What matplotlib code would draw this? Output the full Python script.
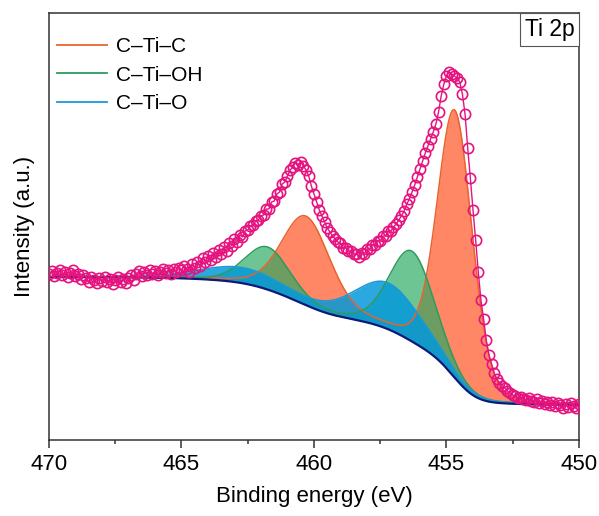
import numpy as np
import matplotlib.pyplot as plt
from matplotlib.lines import Line2D
from matplotlib.ticker import MultipleLocator

plt.rcParams['font.family'] = ['Liberation Sans', 'DejaVu Sans']

# ------------------------------------------------------------
# Measured Ti 2p spectrum, 470 -> 450 eV, 0.1 eV steps (a.u.)
# ------------------------------------------------------------
be_start, be_step = 470.0, 0.1
counts = [
    166, 169, 164, 167, 170, 165, 168, 163, 167, 170,
    164, 166, 161, 165, 162, 158, 163, 160, 157, 162,
    159, 163, 158, 161, 156, 160, 163, 158, 161, 157,
    162, 165, 160, 166, 169, 164, 168, 165, 170, 166,
    169, 165, 168, 171, 167, 170, 166, 171, 168, 172,
    170, 174, 171, 168, 176, 172, 178, 174, 182, 178,
    184, 180, 187, 183, 190, 186, 193, 189, 197, 194,
    201, 198, 205, 203, 209, 210, 214, 215, 219, 220,
    224, 225, 231, 231, 238, 239, 246, 248, 256, 258,
    264, 270, 273, 277, 275, 278, 274, 270, 264, 254,
    246, 238, 230, 224, 218, 212, 208, 204, 201, 198,
    197, 192, 192, 189, 189, 186, 186, 183, 187, 186,
    191, 191, 195, 195, 199, 199, 204, 204, 209, 209,
    213, 216, 220, 224, 229, 236, 241, 248, 255, 263,
    271, 279, 287, 294, 301, 308, 316, 328, 344, 356,
    364, 368, 366, 364, 362, 358, 346, 326, 292, 262,
    230, 200, 168, 140, 121, 100, 85, 76, 67, 61,
    57, 54, 52, 49, 47, 45, 44, 42, 43, 41,
    40, 42, 39, 38, 41, 37, 39, 36, 38, 35,
    38, 34, 37, 35, 32, 36, 33, 37, 34, 32,
    36,
]

# ------------------------------------------------------------
# Fitted doublets (2p3/2 and 2p1/2) per chemical state
# ------------------------------------------------------------
species = ["C\u2013Ti\u2013C", "C\u2013Ti\u2013OH", "C\u2013Ti\u2013O"]
center_32 = [454.68, 456.30, 457.20]
center_12 = [460.30, 461.75, 462.70]
height_32 = [267, 90, 46]
height_12 = [88, 42, 15]
fwhm_32 = [1.55, 2.0, 3.0]
fwhm_12 = [2.15, 2.0, 3.8]
gl_mix = 0.2

# Shirley background end levels
bg_low, bg_high = 35, 163   # at 450 eV and 470 eV

fill_colors = ["#FF8766", "#26A95F", "#0499DA"]
fill_alpha = [1.0, 0.67, 0.85]
line_colors = ["#E8632F", "#2E9B5E", "#1A9AD6"]
data_color = "#E5137E"
bg_color = "#0B1A78"


def pseudo_voigt(E, c, h, w, eta=gl_mix):
    x = (E - c) / w
    return h * ((1 - eta) * np.exp(-4 * np.log(2) * x**2) + eta / (1 + 4 * x**2))


E_data = be_start - be_step * np.arange(len(counts))
E = np.linspace(450.0, 470.0, 2001)

comps = []
for k in range(len(species)):
    comps.append(
        pseudo_voigt(E, center_32[k], height_32[k], fwhm_32[k])
        + pseudo_voigt(E, center_12[k], height_12[k], fwhm_12[k])
    )
total = np.sum(comps, axis=0)

# Shirley background: steps up with the peak area on the low-BE side
area = np.concatenate([[0], np.cumsum(0.5 * (total[1:] + total[:-1]) * np.diff(E))])
bg = bg_low + (bg_high - bg_low) * area / area[-1]

# ------------------------------------------------------------
# Figure
# ------------------------------------------------------------
fig = plt.figure(figsize=(5.99, 5.16), dpi=100)
ax = fig.add_axes([0.0818, 0.1473, 0.8848, 0.8275])

for k in range(len(species)):
    ax.fill_between(E, bg, bg + comps[k], color=fill_colors[k],
                    alpha=fill_alpha[k], lw=0, zorder=1 + k)
for k in range(len(species)):
    ax.plot(E, bg + comps[k], color=line_colors[k], lw=1.1, zorder=5)

ax.plot(E, bg, color=bg_color, lw=1.6, zorder=6)

ax.plot(E_data, counts, color=data_color, lw=1.0, marker="o", ms=7.4,
        mfc="none", mec=data_color, mew=1.2, zorder=7)

ax.set_xlim(470, 450)
ax.set_ylim(0, 427)
ax.set_yticks([])
ax.xaxis.set_major_locator(MultipleLocator(5))
ax.xaxis.set_minor_locator(MultipleLocator(2.5))
ax.tick_params(axis="x", which="major", direction="out", length=6,
               width=1.1, color="#333333", labelsize=16, pad=4)
ax.tick_params(axis="x", which="minor", direction="out", length=3,
               width=1.1, color="#333333")
for sp in ax.spines.values():
    sp.set_color("#333333")
    sp.set_linewidth(1.1)

ax.set_xlabel("Binding energy (eV)", fontsize=16, labelpad=8)
ax.set_ylabel("Intensity (a.u.)", fontsize=16, labelpad=10)

handles = [Line2D([], [], color=c, lw=1.3) for c in line_colors]
ax.legend(handles, species, loc="upper left", bbox_to_anchor=(0.015, 0.943),
          frameon=False, fontsize=15, handlelength=2.4, handletextpad=0.45,
          labelspacing=0.45, borderpad=0, borderaxespad=0)

ax.text(0.9913, 0.989, "Ti 2p", transform=ax.transAxes, ha="right", va="top",
        fontsize=16.5, zorder=10,
        bbox=dict(boxstyle="square,pad=0.22", fc="white", ec="#555555", lw=0.8))

fig.savefig("out.png", dpi=100)
